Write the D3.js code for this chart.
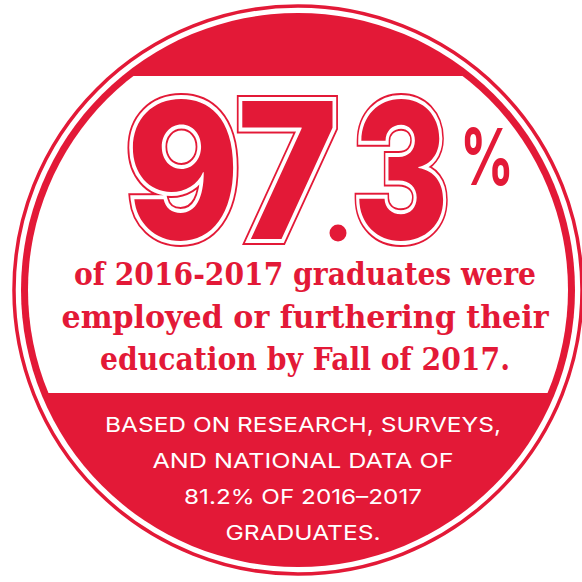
<!DOCTYPE html>
<html>
<head>
<meta charset="utf-8">
<script src="https://cdn.jsdelivr.net/npm/d3@7/dist/d3.min.js"></script>
<style>
  html, body { margin: 0; padding: 0; background: #ffffff; }
  svg { display: block; }
</style>
</head>
<body>
<div id="chart"></div>
<script>
// ---- data ----
const headlineParts = ["97", "3"];
const headlineWidths = [212, 96];
const headlineValue = [97.3];
const headlineUnit = ["%"];
const statementLines = [
  "of 2016-2017 graduates were",
  "employed or furthering their",
  "education by Fall of 2017."
];
const statementWidths = [462, 487, 410];
const footnoteLines = [
  "BASED ON RESEARCH, SURVEYS,",
  "AND NATIONAL DATA OF",
  "81.2% OF 2016\u20132017",
  "GRADUATES."
];
const footnoteWidths = [396, 301, 238, 155];

// ---- setup ----
const W = 582, H = 582;
const RED = "#e31937";
const svg = d3.select("#chart").append("svg")
  .attr("width", W).attr("height", H)
  .attr("viewBox", `0 0 ${W} ${H}`);

const cx = 298, cy = 290;
const rRing = 284, rDisk = 277, rInner = 270;
const bandTop = 76, bandBottom = 393;

svg.append("circle").attr("cx", cx).attr("cy", cy).attr("r", rRing)
  .attr("fill", "none").attr("stroke", RED).attr("stroke-width", 3.5);
svg.append("circle").attr("cx", cx).attr("cy", cy).attr("r", rDisk)
  .attr("fill", RED);
const defs = svg.append("defs");
defs.append("clipPath").attr("id", "innerClip")
  .append("circle").attr("cx", cx).attr("cy", cy).attr("r", rInner);
svg.append("rect")
  .attr("x", 0).attr("y", bandTop).attr("width", W).attr("height", bandBottom - bandTop)
  .attr("fill", "#ffffff").attr("clip-path", "url(#innerClip)");

// ---- headline number (defined once, painted in three layers) ----
const bigFont = "Inter, 'DejaVu Sans', sans-serif";
const baseY = 239;
const partX = [126, 353];
const glyphs = defs.append("g").attr("id", "bignum");
glyphs.selectAll("text").data(headlineParts).enter().append("text")
  .attr("x", (d, i) => partX[i]).attr("y", baseY)
  .attr("font-family", bigFont).attr("font-weight", 800)
  .attr("font-size", 190)
  .attr("textLength", (d, i) => headlineWidths[i])
  .attr("lengthAdjust", "spacingAndGlyphs")
  .text(d => d);
const layers = [
  {stroke: RED, sw: 12, fill: RED},
  {stroke: "#ffffff", sw: 8, fill: "none"},
  {stroke: "none", sw: 0, fill: RED}
];
const big = svg.append("g").attr("class", "headline");
big.selectAll("use").data(layers).enter().append("use")
  .attr("href", "#bignum")
  .attr("fill", d => d.fill).attr("stroke", d => d.stroke)
  .attr("stroke-width", d => d.sw)
  .attr("stroke-linejoin", "miter").attr("stroke-miterlimit", 3);
// decimal point
big.append("circle").attr("cx", 338).attr("cy", 233).attr("r", 8.5).attr("fill", RED);
// percent sign
big.selectAll("text.unit").data(headlineUnit).enter().append("text")
  .attr("class", "unit")
  .attr("x", 460).attr("y", 185)
  .attr("font-family", bigFont).attr("font-weight", 700)
  .attr("font-size", 78).attr("fill", RED)
  .attr("textLength", 54).attr("lengthAdjust", "spacingAndGlyphs")
  .text(d => d);

// ---- statement (slab serif) ----
const stY = d3.scalePoint().domain(d3.range(statementLines.length)).range([285, 370]);
svg.append("g").selectAll("text").data(statementLines).enter().append("text")
  .attr("x", 305).attr("y", (d, i) => stY(i))
  .attr("text-anchor", "middle")
  .attr("font-family", "'DejaVu Serif', serif")
  .attr("font-weight", 700)
  .attr("font-size", 32)
  .attr("fill", RED)
  .attr("textLength", (d, i) => statementWidths[i])
  .attr("lengthAdjust", "spacingAndGlyphs")
  .text(d => d);

// ---- footnote (sans, white) ----
const fnY = d3.scalePoint().domain(d3.range(footnoteLines.length)).range([432, 540]);
svg.append("g").selectAll("text").data(footnoteLines).enter().append("text")
  .attr("x", 303).attr("y", (d, i) => fnY(i))
  .attr("text-anchor", "middle")
  .attr("font-family", "Inter, 'Noto Sans', sans-serif")
  .attr("font-weight", 400)
  .attr("font-size", 20.5)
  .attr("fill", "#ffffff")
  .attr("textLength", (d, i) => footnoteWidths[i])
  .attr("lengthAdjust", "spacingAndGlyphs")
  .text(d => d);
</script>
</body>
</html>
